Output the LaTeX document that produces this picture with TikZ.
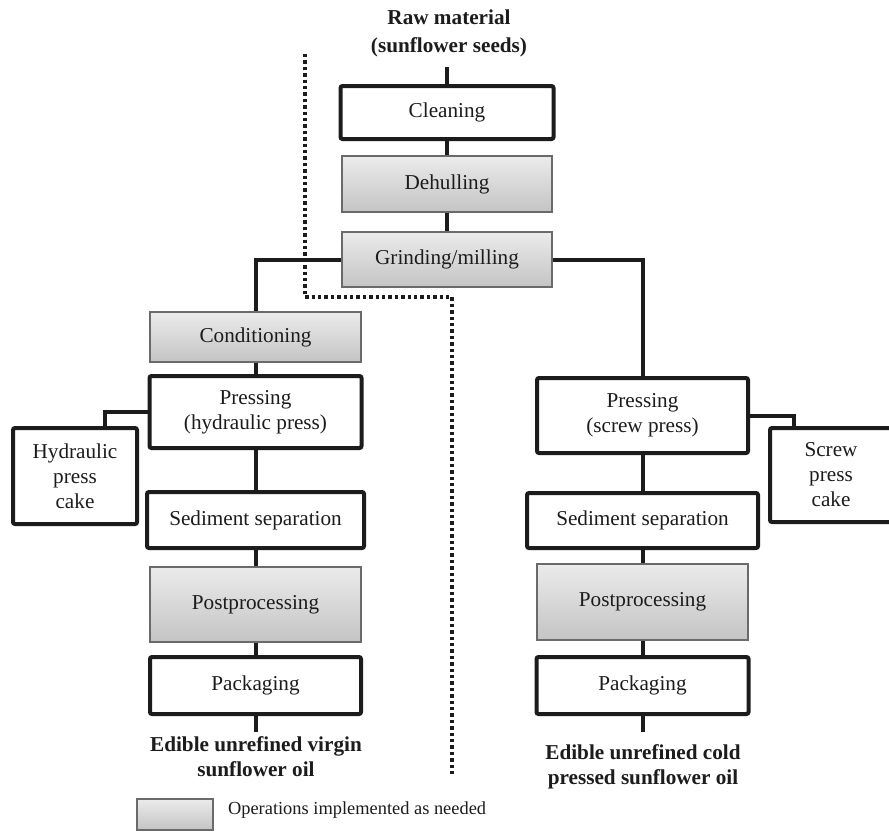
\documentclass[tikz,border=0pt]{standalone}
\usepackage{fontspec}
\setmainfont{Liberation Serif}
\usetikzlibrary{calc,positioning}
\definecolor{ink}{HTML}{1C1C1C}
\definecolor{optop}{HTML}{EBEBEB}
\definecolor{opbot}{HTML}{C4C4C4}
\definecolor{opedge}{HTML}{6A6A6A}
\newcommand{\Flow}{\fontsize{10.6}{12.5}\selectfont}
\newcommand{\Note}{\fontsize{9.2}{11}\selectfont}

\begin{document}
\begin{tikzpicture}[x=0.5pt,y=-0.5pt, font=\Flow, text=ink,
    stage/.style={draw=ink, line width=2pt, rounded corners=1pt, fill=white, align=center, inner sep=0pt},
    optional/.style={draw=opedge, line width=0.8pt, top color=optop, bottom color=opbot, align=center, inner sep=0pt},
    link/.style={draw=ink, line width=2pt},
    product/.style={font=\Flow\bfseries, align=center, text depth=0pt}]
  \clip (0,0) rectangle (889,831);
  \fill[white] (0,0) rectangle (889,831);

  % separator between the two routes
  \draw[ink, line width=2pt, dash pattern=on 1.7pt off 1.5pt]
    (305,54) -- (305,297) -- (452,297) -- (452,777);

  % common steps
  \node[product, font=\fontsize{10.6}{13.8}\selectfont\bfseries] (raw) at (449,31) {Raw material\\(sunflower seeds)};
  \coordinate (rawend) at (447,67);
  \node[stage, minimum width=106.5pt, minimum height=26.5pt] (cleaning) at (447,112.5) {Cleaning};
  \node[optional, minimum width=105pt, minimum height=28pt] (dehull) at (447,184) {Dehulling};
  \node[optional, minimum width=105pt, minimum height=27.5pt] (grind) at (447,259.5) {Grinding/milling};

  % hydraulic press route
  \node[optional, minimum width=105.5pt, minimum height=25pt] (cond) at (255.5,337) {Conditioning};
  \node[stage, minimum width=106pt, minimum height=36pt] (presshyd) at (255.5,412) {Pressing\\(hydraulic press)};
  \node[stage, minimum width=62pt, minimum height=48pt] (hydcake) at (75,476) {Hydraulic\\press\\cake};
  \node[stage, minimum width=108.5pt, minimum height=28pt] (sedleft) at (255.5,520) {Sediment separation};
  \node[optional, minimum width=105.5pt, minimum height=37.5pt] (postleft) at (255.5,604.5) {Postprocessing};
  \node[stage, minimum width=105.5pt, minimum height=28.5pt] (packleft) at (255.5,685.5) {Packaging};
  \coordinate (virginend) at (255.5,732);
  \node[product] (virgin) at (256,757) {Edible unrefined virgin\\sunflower oil};

  % screw press route
  \node[stage, minimum width=105.5pt, minimum height=37.5pt] (pressscrew) at (642.5,415.5) {Pressing\\(screw press)};
  \node[stage, minimum width=61pt, minimum height=47pt] (screwcake) at (831,475) {Screw\\press\\cake};
  \node[stage, minimum width=115.5pt, minimum height=27.5pt] (sedright) at (642.5,520.5) {Sediment separation};
  \node[optional, minimum width=105.5pt, minimum height=38pt] (postright) at (642.5,602) {Postprocessing};
  \node[stage, minimum width=106pt, minimum height=28.5pt] (packright) at (642.5,685.5) {Packaging};
  \coordinate (coldend) at (642.5,732);
  \node[product] (cold) at (643,765) {Edible unrefined cold\\pressed sunflower oil};

  % connectors
  \draw[link] (rawend) -- (cleaning.north);
  \foreach \a/\b in {cleaning/dehull, dehull/grind, cond/presshyd, presshyd/sedleft,
                     sedleft/postleft, postleft/packleft, pressscrew/sedright,
                     sedright/postright, postright/packright}
    \draw[link] (\a.south) -- (\b.north);
  \draw[link] (grind.west) -| (cond.north);
  \draw[link] (grind.east) -| (pressscrew.north);
  \draw[link] (presshyd.west) -| ([xshift=15pt]hydcake.north);
  \draw[link] (pressscrew.east) -| ([xshift=-18.5pt]screwcake.north);
  \draw[link] (packleft.south) -- (virginend);
  \draw[link] (packright.south) -- (coldend);

  % key
  \node[optional, minimum width=38pt, minimum height=15.5pt] (key) at (175,814.5) {};
  \node[anchor=west, font=\Note] (keytext) at (221,810) {Operations implemented as needed};
\end{tikzpicture}
\end{document}
